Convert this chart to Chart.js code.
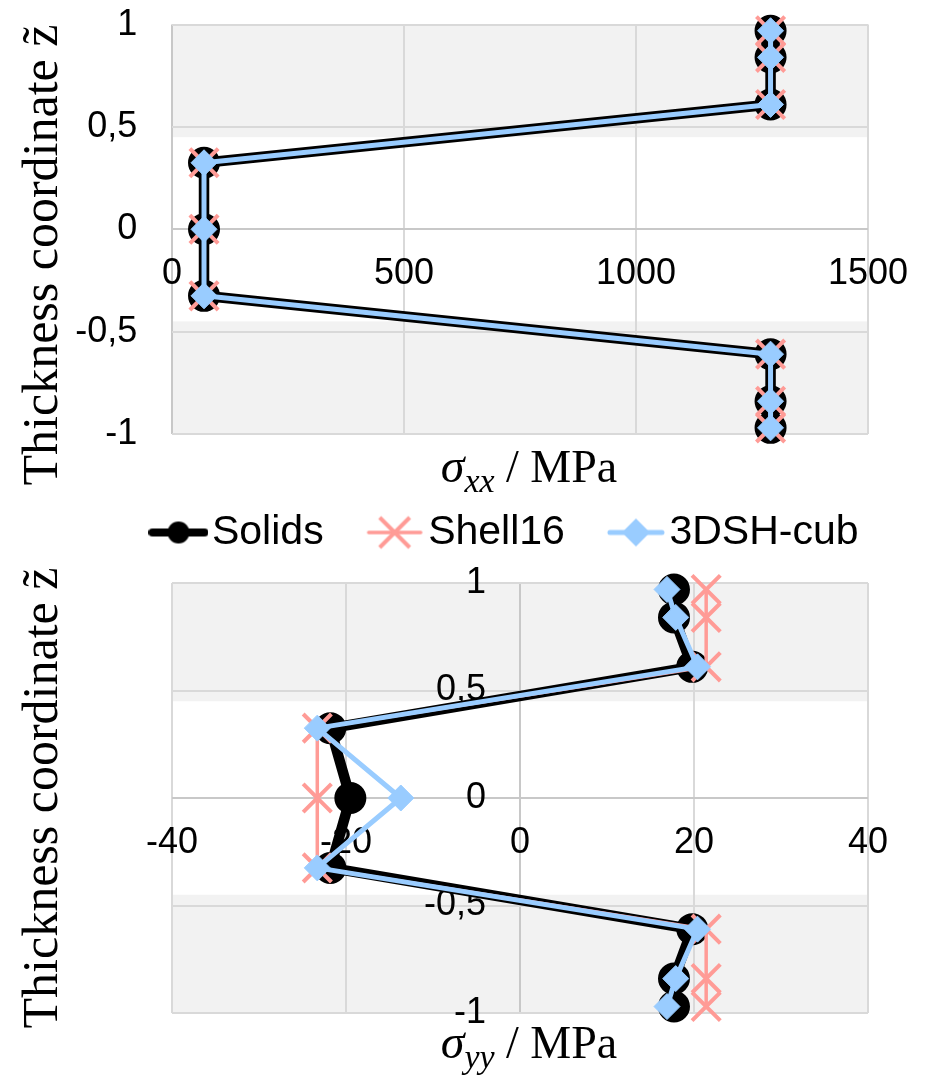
<!DOCTYPE html>
<html>
<head>
<meta charset="utf-8">
<title>Stress through the thickness</title>
<script src="https://cdn.jsdelivr.net/npm/chart.js@4.4.1/dist/chart.umd.min.js"></script>
<style>
  html, body { margin: 0; padding: 0; background: #fff; }
  #wrap { position: relative; width: 934px; height: 1078px; }
  canvas { position: absolute; left: 0; }
  #sxx { top: 0; }
  #syy { top: 454px; }
</style>
</head>
<body>
<div id="wrap">
  <canvas id="sxx" width="934" height="500"></canvas>
  <canvas id="syy" width="934" height="624"></canvas>
</div>
<script>
// thickness coordinate of the sampling points, top to bottom
const zPoints = [0.97, 0.84, 0.61, 0.325, 0, -0.325, -0.61, -0.84, -0.97];

// sigma_xx / MPa
const sxxSolids  = [1290, 1290, 1290, 69, 69, 69, 1290, 1290, 1290];
const sxxShell16 = [1290, 1290, 1290, 69, 69, 69, 1290, 1290, 1290];
const sxx3dsh    = [1290, 1290, 1290, 69, 69, 69, 1290, 1290, 1290];

// sigma_yy / MPa
const syySolids  = [17.7, 17.7, 19.8, -21.8, -19.5, -21.8, 19.8, 17.7, 17.7];
const syyShell16 = [21.4, 21.4, 21.4, -23.3, -23.3, -23.3, 21.4, 21.4, 21.4];
const syy3dsh    = [16.9, 17.9, 20.4, -23.3, -13.7, -23.3, 20.4, 17.9, 16.9];

const seriesNames = ['Solids', 'Shell16', '3DSH-cub'];
const zTicks   = [-1, -0.5, 0, 0.5, 1];
const sxxTicks = [0, 500, 1000, 1500];
const syyTicks = [-40, -20, 0, 20, 40];

// outer layers (grey bands)
const layerEdges = [0.45, -0.45];

const BLACK = '#000000';
const SALMON = '#FF9B96';
const BLUE = '#99CCFF';
const SANS = '"Liberation Sans", Arial, sans-serif';
const SERIF = '"Liberation Serif", "Times New Roman", serif';

// legend icons: line with the marker in the middle
function makeIcon(color, lineW, marker) {
    const c = document.createElement('canvas');
    c.width = 60;
    c.height = 46;
    const g = c.getContext('2d');
    g.strokeStyle = color;
    g.fillStyle = color;
    g.lineWidth = lineW;
    g.lineCap = 'round';
    g.beginPath();
    g.moveTo(4, 23);
    g.lineTo(56, 23);
    g.stroke();
    marker(g);
    return c;
}

const legendIcons = [
    makeIcon(BLACK, 8, g => { g.beginPath(); g.arc(30, 23, 11, 0, Math.PI * 2); g.fill(); }),
    makeIcon(SALMON, 3.5, g => {
        g.lineWidth = 4; g.lineCap = 'butt';
        g.beginPath();
        g.moveTo(15, 8); g.lineTo(45, 38);
        g.moveTo(45, 8); g.lineTo(15, 38);
        g.stroke();
    }),
    makeIcon(BLUE, 5, g => {
        g.beginPath();
        g.moveTo(16, 23); g.lineTo(30, 9); g.lineTo(44, 23); g.lineTo(30, 37);
        g.closePath(); g.fill();
    })
];

function toPoints(xs) {
    return xs.map((x, i) => ({ x: x, y: zPoints[i] }));
}

function buildDatasets(solids, shell, dsh) {
    const common = { showLine: true, clip: false, borderCapStyle: 'round', borderJoinStyle: 'round' };
    return [
        Object.assign({
            label: seriesNames[0], data: toPoints(solids), order: 3,
            borderColor: BLACK, backgroundColor: BLACK, borderWidth: 10.5,
            pointStyle: 'circle', pointRadius: 15, pointHoverRadius: 15, pointBorderWidth: 2
        }, common),
        Object.assign({
            label: seriesNames[1], data: toPoints(shell), order: 2,
            borderColor: SALMON, backgroundColor: SALMON, borderWidth: 3.5,
            pointStyle: 'crossRot', pointRadius: 20, pointHoverRadius: 20, pointBorderWidth: 4
        }, common),
        Object.assign({
            label: seriesNames[2], data: toPoints(dsh), order: 1,
            borderColor: BLUE, backgroundColor: BLUE, borderWidth: 5,
            pointStyle: 'rectRot', pointRadius: 13, pointHoverRadius: 13, pointBorderWidth: 1
        }, common)
    ];
}

// grey bands behind the grid
const layerBands = {
    id: 'layerBands',
    beforeDraw(chart) {
        const { ctx, chartArea: a, scales: { y } } = chart;
        const top = y.getPixelForValue(y.max);
        const upper = y.getPixelForValue(layerEdges[0]);
        const lower = y.getPixelForValue(layerEdges[1]);
        const bottom = y.getPixelForValue(y.min);
        ctx.save();
        ctx.fillStyle = '#F2F2F2';
        ctx.fillRect(a.left, top, a.right - a.left, upper - top);
        ctx.fillRect(a.left, lower, a.right - a.left, bottom - lower);
        ctx.restore();
    }
};

// axis titles with sigma subscripts
function axisTitles(sub, yCenter, xBaseline) {
    return {
        id: 'axisTitles',
        afterDraw(chart) {
            const ctx = chart.ctx;
            ctx.save();
            ctx.fillStyle = '#000';
            ctx.textBaseline = 'alphabetic';
            ctx.translate(57, yCenter);
            ctx.rotate(-Math.PI / 2);
            ctx.textAlign = 'center';
            ctx.font = '50px ' + SERIF;
            ctx.fillText('Thickness coordinate z\u0303', 0, 0);
            ctx.restore();

            const parts = [
                { t: '\u03C3', font: 'italic 48px ' + SERIF, dy: 0 },
                { t: sub, font: 'italic 34px ' + SERIF, dy: 10 },
                { t: ' / MPa', font: '46px ' + SERIF, dy: 0 }
            ];
            ctx.save();
            ctx.fillStyle = '#000';
            ctx.textAlign = 'left';
            ctx.textBaseline = 'alphabetic';
            let total = 0;
            parts.forEach(p => { ctx.font = p.font; p.w = ctx.measureText(p.t).width; total += p.w; });
            const a = chart.chartArea;
            let x = (a.left + a.right) / 2 + 9 - total / 2;
            parts.forEach(p => { ctx.font = p.font; ctx.fillText(p.t, x, xBaseline + p.dy); x += p.w; });
            ctx.restore();
        }
    };
}

function gridColor(c) {
    return c.tick && c.tick.value === 0 ? '#C8C8C8' : '#D9D9D9';
}

function valueAxis(ticks, yAt, padding) {
    return {
        type: 'linear',
        min: ticks[0],
        max: ticks[ticks.length - 1],
        position: { y: yAt },
        afterBuildTicks: s => { s.ticks = ticks.map(v => ({ value: v })); },
        grid: { color: gridColor, lineWidth: 2, drawTicks: false },
        border: { display: false },
        ticks: { color: '#000', font: { family: SANS, size: 36 }, padding: padding, callback: v => String(v) }
    };
}

function zAxis(xAt) {
    return {
        type: 'linear',
        min: zTicks[0],
        max: zTicks[zTicks.length - 1],
        position: { x: xAt },
        afterBuildTicks: s => { s.ticks = zTicks.map(v => ({ value: v })); },
        grid: { color: gridColor, lineWidth: 2, drawTicks: false },
        border: { display: false },
        ticks: { color: '#000', font: { family: SANS, size: 36 }, callback: v => String(v).replace('.', ',') }
    };
}

// empty axis, only keeps room free
function spacer(position, size) {
    return {
        type: 'linear', position: position, display: true,
        grid: { display: false }, border: { display: false }, ticks: { display: false },
        afterFit: s => {
            if (s.isHorizontal()) s.height = size; else s.width = size;
        }
    };
}

// top chart: sigma_xx
new Chart(document.getElementById('sxx'), {
    type: 'scatter',
    data: { datasets: buildDatasets(sxxSolids, sxxShell16, sxx3dsh) },
    options: {
        responsive: false,
        animation: false,
        events: [],
        layout: { padding: { left: 172, right: 66, top: 21, bottom: 66 } },
        scales: {
            x: valueAxis(sxxTicks, 0, 23),
            y: zAxis(-75)
        },
        plugins: { legend: { display: false }, tooltip: { enabled: false } }
    },
    plugins: [layerBands, axisTitles('xx', 255, 482)]
});

// bottom chart: sigma_yy, carries the legend
new Chart(document.getElementById('syy'), {
    type: 'scatter',
    data: { datasets: buildDatasets(syySolids, syyShell16, syy3dsh) },
    options: {
        responsive: false,
        animation: false,
        events: [],
        layout: { padding: { left: 90, right: 0, top: 0, bottom: 65 } },
        scales: {
            x: valueAxis(syyTicks, 0, 23),
            y: zAxis(-3.9),
            x2: spacer('top', 20),
            y2: spacer('left', 82),
            y3: spacer('right', 66)
        },
        plugins: {
            tooltip: { enabled: false },
            legend: {
                position: 'top',
                labels: {
                    usePointStyle: true,
                    pointStyleWidth: 26,
                    padding: 58,
                    color: '#000',
                    font: { family: SANS, size: 41 },
                    sort: (a, b) => a.datasetIndex - b.datasetIndex,
                    generateLabels(chart) {
                        const items = Chart.defaults.plugins.legend.labels.generateLabels(chart);
                        items.forEach(it => { it.pointStyle = legendIcons[it.datasetIndex]; it.rotation = 0; });
                        return items;
                    }
                }
            }
        }
    },
    plugins: [layerBands, axisTitles('yy', 344, 604)]
});
</script>
</body>
</html>
